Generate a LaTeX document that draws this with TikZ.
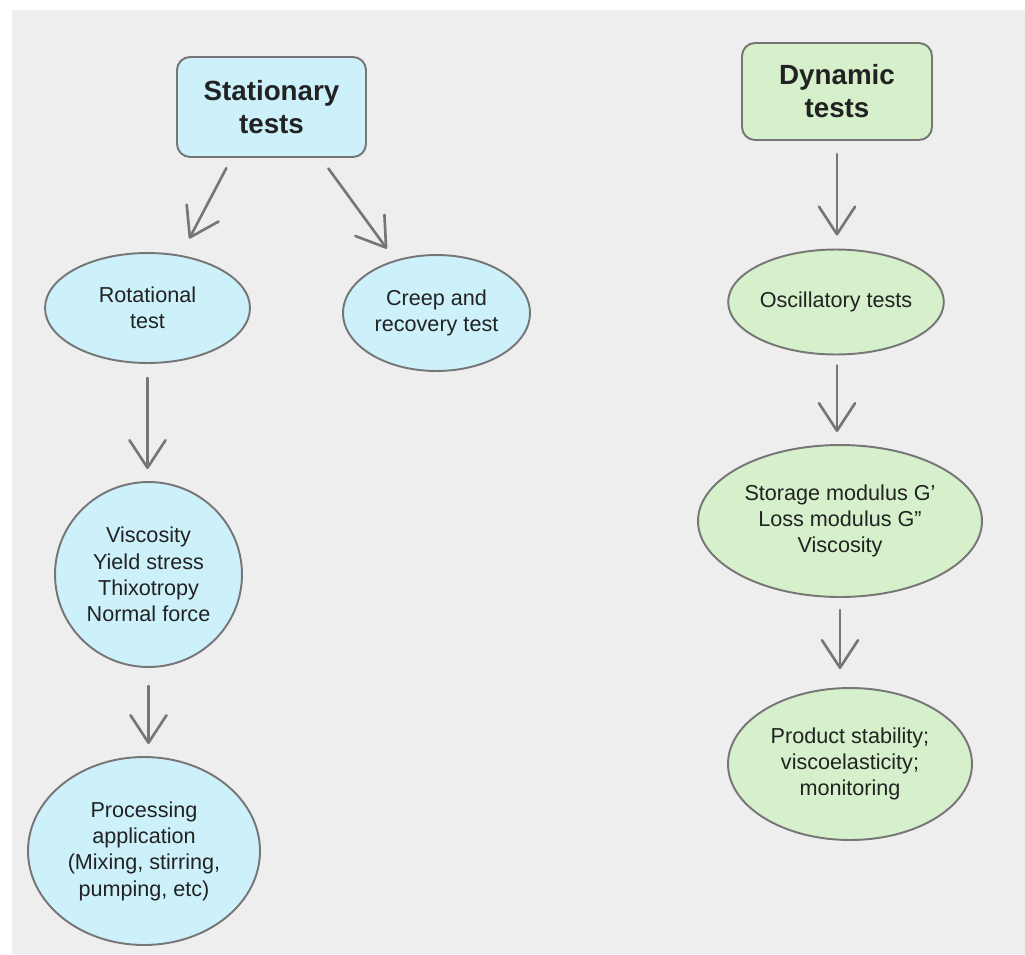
\documentclass[tikz,border=0pt]{standalone}
\usepackage{fontspec}
\setmainfont{Liberation Sans}
\usetikzlibrary{positioning, arrows.meta, shapes.geometric}

\definecolor{paper}{HTML}{EEEEEE}
\definecolor{statblue}{HTML}{CDF1FB}
\definecolor{dyngreen}{HTML}{D5F0CA}
\definecolor{edgegray}{HTML}{767676}
\definecolor{inkgray}{HTML}{222222}

\begin{document}
\begin{tikzpicture}[
    x=0.02cm, y=-0.02cm,
    font=\fontsize{12.3}{15}\selectfont,
    text=inkgray,
    head/.style={
        rectangle,
        rounded corners=0.26cm,
        draw=edgegray,
        line width=1.1pt,
        align=center,
        inner sep=0pt,
        font=\fontsize{15.8}{18.7}\selectfont\bfseries
    },
    bubble/.style={
        ellipse,
        draw=edgegray,
        line width=1.1pt,
        align=center,
        inner sep=0pt
    },
    arrow/.style={-{Straight Barb[length=0.55cm, width=0.72cm, round]}, draw=edgegray, line width=1.5pt, line cap=round}
]

% paper
\fill[white] (0,0) rectangle (1025,954);
\fill[paper] (12,10) rectangle (1025,954);
\useasboundingbox (0,0) rectangle (1025,954);

% headings
\node[head, fill=statblue, minimum width=3.78cm, minimum height=2cm] (stat) at (271.5,107) {Stationary\\tests};
\node[head, fill=dyngreen, minimum width=3.8cm, minimum height=1.94cm] (dyn) at (837,91.5) {Dynamic\\tests};

% stationary branch
\node[bubble, fill=statblue, minimum width=4.1cm, minimum height=2.2cm] (rot) at (147.5,308) {Rotational\\test};
\node[bubble, fill=statblue, minimum width=3.74cm, minimum height=2.32cm] (creep) at (436.5,313) {Creep and\\recovery test};
\node[bubble, fill=statblue, minimum width=3.74cm, minimum height=3.7cm] (props) at (148.5,574.5) {Viscosity\\Yield stress\\Thixotropy\\Normal force};
\node[bubble, fill=statblue, minimum width=4.64cm, minimum height=3.76cm] (proc) at (144,851) {Processing\\application\\(Mixing, stirring,\\pumping, etc)};

% dynamic branch
\node[bubble, fill=dyngreen, minimum width=4.1cm, minimum height=2.1cm] (osc) at (836,302) {Oscillatory tests};
\node[bubble, fill=dyngreen, minimum width=5.68cm, minimum height=3.04cm] (mod) at (840,521) {Storage modulus G’\\Loss modulus G”\\Viscosity};
\node[bubble, fill=dyngreen, minimum width=4.88cm, minimum height=3.04cm] (stab) at (850,764) {Product stability;\\viscoelasticity;\\monitoring};

\draw[arrow, shorten <=0.23cm, shorten >=0.37cm] (stat.232) -- (rot.58);
\draw[arrow, shorten <=0.26cm, shorten >=0.28cm] (stat.314) -- (creep.128);
\draw[arrow, shorten <=0.28cm, shorten >=0.24cm] (rot.south) -- (rot.south |- props.north);
\draw[arrow, shorten <=0.36cm, shorten >=0.24cm] (props.south) -- (props.south |- proc.north);

\draw[arrow, shorten <=0.26cm, shorten >=0.26cm] (dyn.south) -- (dyn.south |- osc.north);
\draw[arrow, shorten <=0.2cm, shorten >=0.24cm] (osc.south -| dyn) -- (mod.north -| dyn);
\draw[arrow, shorten <=0.24cm, shorten >=0.36cm] (mod.south) -- (mod.south |- stab.north);

\end{tikzpicture}
\end{document}
